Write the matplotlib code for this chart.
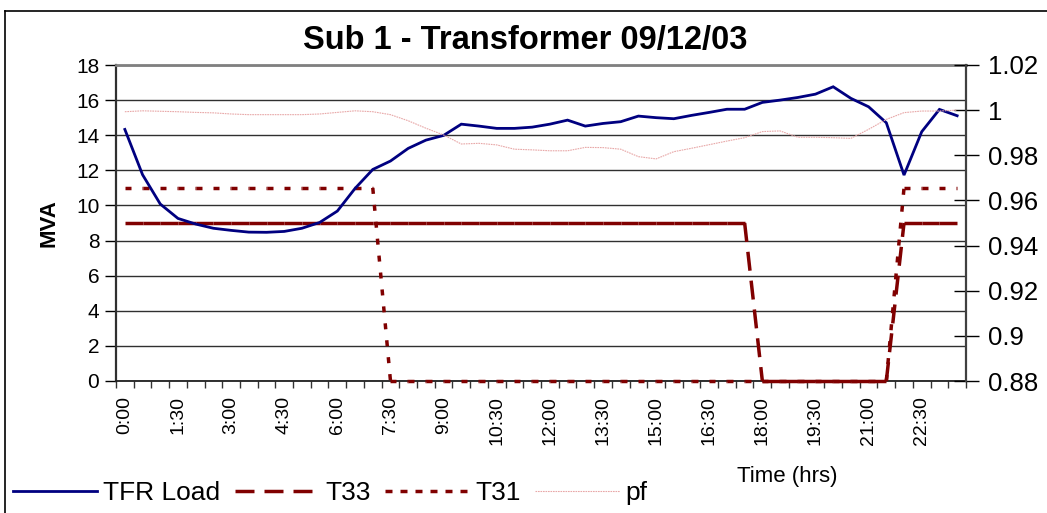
import numpy as np
import matplotlib
matplotlib.use("Agg")
import matplotlib.pyplot as plt
from matplotlib.collections import LineCollection
from matplotlib.lines import Line2D

plt.rcParams['font.family'] = ['Liberation Sans', 'DejaVu Sans']
plt.rcParams['lines.scale_dashes'] = False

# ---- data ----
times = ["%d:%02d" % (h, m) for h in range(24) for m in (0, 30)]
tick_labels = ["0:00", "1:30", "3:00", "4:30", "6:00", "7:30", "9:00", "10:30",
               "12:00", "13:30", "15:00", "16:30", "18:00", "19:30", "21:00", "22:30"]

tfr_load = [14.33, 11.75, 10.08, 9.26, 8.94, 8.70, 8.58, 8.48, 8.47, 8.52,
            8.70, 9.03, 9.68, 10.97, 12.05, 12.53, 13.25, 13.72, 13.99, 14.63,
            14.52, 14.39, 14.39, 14.46, 14.63, 14.86, 14.52, 14.67, 14.77, 15.09,
            15.00, 14.94, 15.13, 15.30, 15.48, 15.48, 15.87, 16.00, 16.15, 16.34,
            16.76, 16.10, 15.62, 14.71, 11.73, 14.20, 15.47, 15.11]

t33 = [9] * 36 + [0] * 8 + [9] * 4
t31 = [11.0] * 15 + [0] * 29 + [11.0] * 4

pf = [0.9993, 0.9997, 0.9995, 0.9993, 0.9990, 0.9988, 0.9983, 0.9980, 0.9980, 0.9980,
      0.9980, 0.9983, 0.9990, 0.9997, 0.9993, 0.9980, 0.9953, 0.9920, 0.9890, 0.9850,
      0.9853, 0.9846, 0.9827, 0.9824, 0.9820, 0.9820, 0.9835, 0.9834, 0.9827, 0.9794,
      0.9784, 0.9816, 0.9831, 0.9847, 0.9863, 0.9878, 0.9905, 0.9908, 0.9880, 0.9880,
      0.9878, 0.9875, 0.9915, 0.9959, 0.9989, 0.9996, 0.9996, 1.0000]

left_ticks = list(range(0, 19, 2))
right_ticks = [0.88, 0.90, 0.92, 0.94, 0.96, 0.98, 1.00, 1.02]

navy = '#000080'
maroon = '#800000'
pf_color = '#e8a8a8'

px = 0.72  # points per pixel at dpi 100

fig = plt.figure(figsize=(10.47, 5.13), dpi=100)
ax = fig.add_axes([116 / 1047, 1 - 381 / 513, 850 / 1047, 316 / 513])
x = np.arange(len(times))

# gridlines
ax.set_ylim(0, 18)
ax.set_xlim(-0.5, len(times) - 0.5)
ax.set_yticks(left_ticks)
ax.yaxis.grid(True, color='#303030', lw=1.0)
ax.set_axisbelow(True)

# TFR Load
ax.plot(x, tfr_load, color=navy, lw=2.0, zorder=5, solid_joinstyle='miter')

# T33 and T31 as per-segment collections (dash pattern restarts each segment)
def segs(vals):
    pts = np.column_stack([x, vals])
    return np.stack([pts[:-1], pts[1:]], axis=1)

lc33 = LineCollection(segs(t33), colors=maroon, linewidths=2.5,
                      linestyles=[(0, (19 * px, 10 * px))], zorder=4, clip_on=False)
lc31 = LineCollection(segs(t31), colors=maroon, linewidths=2.5,
                      linestyles=[(0, (6 * px, 11 * px))], zorder=4, clip_on=False)
ax.add_collection(lc33)
ax.add_collection(lc31)

# ticks
ax.set_xticks(x[::3])
ax.set_xticklabels(tick_labels, rotation=90, fontsize=14)
ax.set_xticks(np.arange(-0.5, len(times), 1.0), minor=True)
ax.tick_params(axis='x', which='major', length=0, pad=11)
ax.tick_params(axis='x', which='minor', length=5, width=1, color='#333333', direction='out')
ax.tick_params(axis='y', which='major', length=8, width=1, direction='out', pad=4, labelsize=15)
ax.set_yticklabels([str(v) for v in left_ticks])

ax.spines['top'].set_color('#808080')
ax.spines['top'].set_linewidth(2)
ax.spines['left'].set_color('#303030')
ax.spines['left'].set_linewidth(1.6)
ax.spines['bottom'].set_color('#202020')
ax.spines['bottom'].set_linewidth(1.3)
ax.spines['right'].set_visible(False)

ax.set_ylabel('MVA', fontsize=16, fontweight='bold', labelpad=12)
ax.set_xlabel('Time (hrs)', fontsize=16)
ax.xaxis.set_label_coords((787 - 116) / 850, (381 - 466) / 316)
fig.text(525 / 1047, 1 - 40 / 513, 'Sub 1 - Transformer 09/12/03', fontsize=23.5,
         fontweight='bold', ha='center', va='center')

# secondary axis
ax2 = ax.twinx()
ax2.set_ylim(0.88, 1.02)
ax2.set_yticks(right_ticks)
ax2.set_yticklabels(['%g' % v for v in right_ticks])
ax2.plot(x, pf, color=pf_color, lw=0.8, linestyle=(0, (1.2, 0.6)), zorder=3)
ax2.tick_params(axis='y', which='major', direction='inout', length=18, width=1,
                pad=7, labelsize=18.5)
for s in ['top', 'left', 'bottom']:
    ax2.spines[s].set_visible(False)
ax2.spines['right'].set_color('#404040')
ax2.spines['right'].set_linewidth(1.6)

# legend
handles = [Line2D([], [], color=navy, lw=2.0),
           Line2D([], [], color=maroon, lw=2.5, linestyle=(0, (19 * px, 10 * px))),
           Line2D([], [], color=maroon, lw=2.5, linestyle=(0, (7 * px, 8 * px))),
           Line2D([], [], color=pf_color, lw=0.8, linestyle=(0, (1.2, 0.6)))]
labels = ['TFR Load', 'T33', 'T31', 'pf']
fig.legend(handles, labels, loc='center left', bbox_to_anchor=(13 / 1047, 1 - 493 / 513),
           ncol=4, frameon=False, fontsize=19, handlelength=3.2, handletextpad=0.22,
           columnspacing=0.55, borderaxespad=0, borderpad=0)

# figure border (left and top edges)
fig.add_artist(Line2D([5 / 1047, 5 / 1047], [0, 1 - 11 / 513], color='black', lw=1.2,
                      transform=fig.transFigure))
fig.add_artist(Line2D([5 / 1047, 1], [1 - 11 / 513, 1 - 11 / 513], color='black', lw=1.2,
                      transform=fig.transFigure))

fig.savefig('out.png', dpi=100)
